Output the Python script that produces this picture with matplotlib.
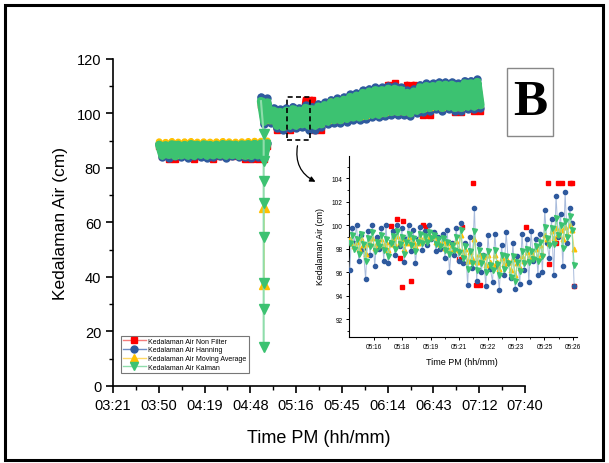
import numpy as np
import matplotlib
matplotlib.use("Agg")
import matplotlib.pyplot as plt
from matplotlib.lines import Line2D
from matplotlib.patches import Rectangle, FancyArrowPatch

plt.rcParams['font.family'] = ['Liberation Sans', 'DejaVu Sans']

# ---------------- data ----------------
# main chart: minutes after 03:00
main_tick_min = [21, 49.78, 78.56, 107.33, 136.11, 164.89, 193.67, 222.44, 251.22, 280]
main_tick_lbl = ["03:21", "03:50", "04:19", "04:48", "05:16", "05:45", "06:14", "06:43", "07:12", "07:40"]

# first recording (03:50 - 04:58), every 2 min
t_band1 = np.arange(50, 119, 2)
raw1 = [88.0, 84.5, 88.0, 83.3, 88.0, 83.3, 88.0, 84.5, 88.0, 84.5, 88.0, 83.3, 88.0, 84.5, 88.0, 84.5, 88.0,
        83.3, 88.0, 84.5, 88.0, 84.5, 88.0, 84.5, 88.0, 84.5, 88.0, 83.3, 88.0, 83.3, 88.0, 83.3, 88.0, 83.3, 88.0]
hann1 = [88.8, 84.0, 88.6, 83.6, 88.9, 84.2, 88.7, 84.0, 88.6, 83.7, 88.9, 84.3, 88.8, 84.0, 88.9, 83.6, 88.7,
         84.1, 88.8, 84.2, 88.9, 83.8, 88.8, 84.2, 88.7, 83.9, 88.8, 84.1, 88.9, 83.7, 89.0, 83.9, 89.1, 83.8, 89.2]
mavg1 = [89.6, 85.0, 89.4, 85.2, 89.7, 84.9, 89.5, 85.1, 89.6, 85.0, 89.7, 85.2, 89.5, 85.3, 89.6, 85.0, 89.5,
         85.1, 89.6, 85.2, 89.7, 85.0, 89.6, 85.1, 89.5, 85.0, 89.6, 84.9, 89.7, 85.0, 89.8, 85.1, 89.8, 84.9, 89.9]
kalm1 = [88.5, 84.5, 88.3, 84.8, 88.6, 84.3, 88.5, 84.6, 88.4, 84.5, 88.7, 84.4, 88.5, 84.8, 88.6, 84.5, 88.4,
         84.6, 88.5, 84.8, 88.7, 84.5, 88.6, 84.7, 88.5, 84.4, 88.6, 84.5, 88.7, 84.4, 88.8, 84.6, 88.9, 84.3, 89.0]

# second recording (04:54 - 07:12), every 2 min
t_band2 = np.arange(114, 253, 2)
raw2 = [103, 97, 103, 97, 100, 94, 100, 94.5, 100, 94,
        100, 96, 101, 96, 105, 96, 105, 94, 101, 94,
        102, 97.5, 103, 98, 104, 98, 104, 98.5, 105, 99,
        106, 99, 107, 99.5, 107, 99.5, 108, 100, 108, 100,
        110.5, 101, 111, 101, 108, 101, 110.5, 100.5, 110.5, 101,
        109, 99.5, 109.5, 99.5, 109.5, 102, 110, 103, 110, 103,
        110, 100.5, 110, 100.5, 110.5, 103, 110.5, 101, 110.5, 101]
hann2 = [106, 96, 105.5, 96.5, 102, 94.5, 101.5, 94, 102, 94.5,
         102.5, 94.5, 102, 95, 103, 94, 102.5, 94, 103.5, 95,
         104, 96, 105, 96.5, 105.5, 96.5, 106, 97, 107, 97.5,
         107.5, 97.5, 108.5, 98, 109, 98.5, 109.5, 98.5, 109.5, 99,
         110, 99.5, 110, 99.5, 109.5, 99.5, 108.5, 99, 109, 100,
         110.5, 100.5, 111, 101, 111, 101.5, 111.5, 101, 111.5, 101.5,
         111.5, 101, 111, 101, 112, 101.5, 112, 101.5, 112.5, 102]
mavg2 = [104, 97.5, 103.5, 97.5, 100.6, 96, 100.2, 95.5, 100.6, 96,
         101, 96, 100.6, 96.5, 101.5, 96, 101, 96, 102, 96.5,
         102.8, 97.5, 104.2, 98, 104.2, 98, 104.6, 98.5, 105.5, 99,
         106, 99, 107, 99.5, 107.6, 100, 108, 100, 108.2, 100.5,
         108.6, 101, 108.6, 101, 108, 101, 107.2, 100.5, 107.6, 101.5,
         109, 102, 109.6, 102.5, 109.6, 103, 110.2, 102.5, 110.2, 103,
         110.2, 102.5, 109.8, 102.5, 110.8, 103, 111, 103, 111.5, 103.5]
kalm2 = [104.5, 97, 104, 97.5, 101, 95.5, 100.5, 95, 101, 95.5,
         101.5, 95.5, 101, 96, 102, 95.5, 101.5, 95.5, 102.5, 96,
         103, 97, 104, 97.5, 104.5, 97.5, 105, 98, 106, 98.5,
         106.5, 98.5, 107.5, 99, 108, 99.5, 108.5, 99.5, 108.5, 100,
         109, 100.5, 109, 100.5, 108.5, 100.5, 107.5, 100, 108, 101,
         109.5, 101.5, 110, 102, 110, 102.5, 110.5, 102, 110.5, 102.5,
         110.5, 102, 110, 102, 111, 102.5, 111, 102.5, 111.5, 103]

# start-up of the filters on the second recording (all at ~04:55)
t_startup = 115.7
kalm_startup = [14.3, 28.3, 37.8, 54.7, 67.2, 75.2, 82.6, 92.5]
mavg_startup = [37.4, 65.7]

# inset: minutes after 05:00
inset_tick_min = [16, 17.45, 18.9, 20.35, 21.8, 23.25, 24.7, 26.15]
inset_tick_lbl = ["05:16", "05:18", "05:19", "05:21", "05:22", "05:23", "05:25", "05:26"]
t_inset = np.linspace(14.77, 26.22, 100)
hann_in = [96.2, 99.8, 98.5, 100.0, 97.0, 99.2, 98.0, 95.4, 99.5, 97.5,
           100.0, 96.5, 99.0, 98.0, 99.8, 97.0, 100.0, 96.8, 98.5, 99.5,
           97.5, 100.0, 98.2, 99.8, 96.9, 98.8, 100.0, 97.8, 99.6, 96.8,
           98.8, 99.9, 97.9, 99.5, 98.3, 100.0, 98.8, 99.4, 97.8, 99.0,
           98.0, 99.3, 97.2, 99.6, 96.0, 98.5, 97.5, 99.8, 97.0, 100.2,
           96.8, 98.5, 94.9, 99.0, 96.4, 101.5, 95.3, 98.4, 96.0, 97.5,
           94.8, 99.2, 96.3, 95.2, 99.3, 96.5, 94.5, 98.3, 95.8, 99.4,
           96.8, 95.5, 98.5, 94.6, 97.4, 95.0, 99.3, 96.2, 98.8, 95.2,
           99.5, 97.0, 98.8, 95.8, 99.3, 96.0, 101.3, 98.5, 97.2, 100.5,
           95.8, 102.5, 99.0, 101.0, 96.5, 102.8, 98.5, 101.5, 100.2, 94.8]
mavg_in = [98.8, 98.5, 98.2, 98.6, 98.0, 98.9, 98.3, 97.6, 98.5, 98.4,
           98.9, 98.1, 98.5, 98.4, 98.8, 98.2, 98.6, 97.9, 98.4, 98.8,
           98.3, 99.1, 98.6, 98.8, 98.0, 98.5, 99.0, 98.5, 98.7, 98.2,
           98.5, 99.0, 98.7, 99.0, 98.8, 99.2, 99.0, 99.1, 98.6, 98.7,
           98.4, 98.7, 98.1, 98.5, 97.9, 98.3, 98.0, 98.7, 97.9, 99.2,
           97.6, 98.0, 97.0, 97.7, 97.2, 98.8, 96.9, 97.6, 97.1, 97.3,
           96.6, 97.5, 96.9, 96.6, 97.5, 96.9, 96.3, 97.2, 96.7, 97.2,
           96.9, 96.2, 97.1, 95.8, 96.8, 96.4, 97.4, 97.0, 97.7, 97.2,
           97.7, 97.4, 98.0, 97.3, 98.3, 97.6, 99.2, 98.8, 98.5, 99.5,
           98.9, 99.8, 99.3, 99.6, 98.8, 99.9, 99.3, 100.0, 99.6, 98.0]
kalm_in = [98.5, 99.2, 98.0, 98.8, 97.6, 99.3, 98.4, 97.0, 98.9, 98.2,
           99.4, 97.8, 98.6, 98.2, 99.2, 97.9, 98.8, 97.4, 98.5, 99.1,
           98.0, 99.5, 98.4, 99.0, 97.6, 98.6, 99.3, 98.3, 98.9, 97.8,
           98.6, 99.3, 98.5, 99.1, 98.6, 99.4, 98.9, 99.2, 98.4, 98.8,
           98.2, 98.9, 97.9, 98.6, 97.6, 98.3, 97.9, 99.0, 97.7, 99.6,
           97.2, 98.2, 96.3, 97.8, 96.8, 99.5, 96.2, 97.9, 96.8, 97.4,
           96.0, 97.8, 96.6, 96.2, 97.9, 96.7, 95.8, 97.5, 96.3, 97.4,
           96.8, 95.6, 97.4, 95.3, 96.9, 96.1, 97.8, 96.8, 98.0, 96.9,
           97.8, 97.1, 98.2, 97.0, 98.6, 97.4, 99.9, 98.9, 98.3, 99.8,
           98.4, 100.6, 99.2, 100.0, 98.1, 100.4, 99.0, 100.8, 99.6, 96.6]
# non-filtered readings that stand out in the inset
t_raw_in = [16.90, 17.16, 17.49, 17.32, 17.45, 17.91, 18.51, 18.65, 20.34, 20.50, 21.06,
            21.23, 21.39, 23.77, 24.87, 24.96, 25.40, 25.60, 25.31, 25.99, 26.12, 26.19]
raw_in = [99.95, 100.5, 100.4, 97.2, 94.75, 95.3, 100.0, 99.9, 97.1, 99.9, 103.6,
          94.9, 94.9, 99.9, 103.6, 96.7, 103.6, 103.6, 98.5, 103.6, 103.6, 94.8]

labels = ["Kedalaman Air Non Filter", "Kedalaman Air Hanning",
          "Kedalaman Air Moving Average", "Kedalaman Air Kalman"]

# ---------------- styles ----------------
c_red, c_blue, c_yel, c_grn = "#FF0000", "#2F5A9E", "#FFC000", "#3CC271"
l_red, l_blue, l_yel, l_grn = "#F47C7C", "#6D8CC4", "#FFD966", "#8FDDAB"

fig = plt.figure(figsize=(6.09, 4.64), dpi=100)
fig.patches.append(Rectangle((0.009, 0.006), 0.981, 0.981, transform=fig.transFigure,
                             fill=False, ec="black", lw=2.2))

ax = fig.add_axes([0.1856, 0.166, 0.6765, 0.705])
# dense noisy recordings: thick line + markers so they read as a solid band
for t, ys, c, m, ms, lw in [(t_band1, raw1, c_red, "s", 4.5, 4.5), (t_band1, hann1, c_blue, "o", 5, 5),
                            (t_band1, mavg1, c_yel, "^", 4.5, 5), (t_band1, kalm1, c_grn, "v", 5, 6),
                            (t_band2, raw2, c_red, "s", 4.5, 4.5), (t_band2, hann2, c_blue, "o", 5, 5),
                            (t_band2, mavg2, c_yel, "^", 4.5, 5), (t_band2, kalm2, c_grn, "v", 5, 6)]:
    ax.plot(t, ys, color=c, lw=lw, marker=m, ms=ms, mec=c, zorder=2,
            solid_joinstyle="round", solid_capstyle="round")

ax.plot([t_startup] * len(mavg_startup), mavg_startup, color=l_yel, lw=1.2,
        marker="^", ms=6.5, mfc=c_yel, mec=c_yel, zorder=3)
ax.plot([t_startup] * len(kalm_startup) + [t_band2[0]], kalm_startup + [kalm2[0]],
        color=l_grn, lw=1.5, marker="v", ms=6.5, mfc=c_grn, mec=c_grn,
        markevery=list(range(len(kalm_startup))), zorder=3)

ax.set_xlim(21, 280)
ax.set_ylim(0, 120)
ax.set_xticks(main_tick_min)
ax.set_xticklabels(main_tick_lbl)
ax.set_xticks([(a + b) / 2 for a, b in zip(main_tick_min[:-1], main_tick_min[1:])], minor=True)
ax.set_yticks(range(0, 121, 20))
ax.set_yticks(range(10, 120, 20), minor=True)
for s in ["top", "right"]:
    ax.spines[s].set_visible(False)
for s in ["left", "bottom"]:
    ax.spines[s].set_linewidth(1.2)
ax.tick_params(which="major", direction="out", length=5, width=1.2, labelsize=10.5, pad=3.5)
ax.tick_params(which="minor", direction="out", length=3, width=1.0)
ax.tick_params(axis="x", which="major", pad=4)
ax.set_xlabel("Time PM (hh/mm)", fontsize=13)
ax.set_ylabel("Kedalaman Air (cm)", fontsize=12.5)
ax.xaxis.set_label_coords(0.5, -0.13)
ax.yaxis.set_label_coords(-0.109, 0.5)

# zoom box + arrow
ax.add_patch(Rectangle((130.5, 90.3), 14.5, 15.7, fill=False, ec="black", lw=1.2, ls=(0, (3, 2)), zorder=5))
fig.patches.append(FancyArrowPatch(
    (298 / 609, 1 - 144 / 464), (318 / 609, 1 - 184 / 464), transform=fig.transFigure,
    connectionstyle="arc3,rad=0.4", arrowstyle="-|>", mutation_scale=8, lw=0.9, color="black"))

handles = [Line2D([], [], color=l_red, marker="s", mfc=c_red, mec=c_red, ms=5, lw=1),
           Line2D([], [], color=l_blue, marker="o", mfc=c_blue, mec=c_blue, ms=5, lw=1),
           Line2D([], [], color=l_yel, marker="^", mfc=c_yel, mec=c_yel, ms=5.5, lw=1),
           Line2D([], [], color=l_grn, marker="v", mfc=c_grn, mec=c_grn, ms=5.5, lw=1)]
leg = ax.legend(handles, labels, loc="lower left", bbox_to_anchor=(0.02, 0.04), fontsize=5,
                frameon=True, fancybox=False, edgecolor="#777777", framealpha=1,
                handlelength=3.2, handletextpad=0.4, borderpad=0.3, labelspacing=0.25,
                borderaxespad=0)
leg.get_frame().set_linewidth(0.8)

# "B" panel label
fig.patches.append(Rectangle((507 / 609, 1 - 137 / 464), 46 / 609, 68 / 464, transform=fig.transFigure,
                             fill=True, fc="white", ec="#888888", lw=1.0))
fig.text(530 / 609, 1 - 103 / 464, "B", family="Liberation Serif", weight="bold",
         fontsize=37, ha="center", va="center")

# ---------------- inset ----------------
ai = fig.add_axes([0.573, 0.2716, 0.374, 0.390])
ai.plot(t_raw_in, raw_in, ls="none", marker="s", ms=2.6, color=c_red, zorder=2)
ai.plot(t_inset, hann_in, color="#A9BCDC", lw=0.7, marker="o", ms=3.0, mfc=c_blue, mec=c_blue, zorder=3)
ai.plot(t_inset, mavg_in, color=l_yel, lw=0.7, marker="^", ms=3.3, mfc=c_yel, mec=c_yel, zorder=4)
ai.plot(t_inset, kalm_in, color=l_grn, lw=0.8, marker="v", ms=3.6, mfc=c_grn, mec=c_grn, zorder=5)
ai.set_xlim(14.73, 26.35)
ai.set_ylim(90.5, 105.9)
ai.set_xticks(inset_tick_min)
ai.set_xticklabels(inset_tick_lbl)
ai.set_xticks([(a + b) / 2 for a, b in zip(inset_tick_min[:-1], inset_tick_min[1:])], minor=True)
ai.set_yticks(range(92, 105, 2))
ai.set_yticks(range(91, 106, 1), minor=True)
for s in ["top", "right"]:
    ai.spines[s].set_visible(False)
for s in ["left", "bottom"]:
    ai.spines[s].set_linewidth(0.8)
ai.tick_params(which="major", direction="out", length=2.5, width=0.7, labelsize=4.7, pad=2)
ai.tick_params(which="minor", direction="out", length=1.5, width=0.6)
ai.set_xlabel("Time PM (hh/mm)", fontsize=6.5)
ai.set_ylabel("Kedalaman Air (cm)", fontsize=6.3)
ai.xaxis.set_label_coords(0.496, -0.11)
ai.yaxis.set_label_coords(-0.105, 0.504)

fig.savefig("out.png", dpi=100)
